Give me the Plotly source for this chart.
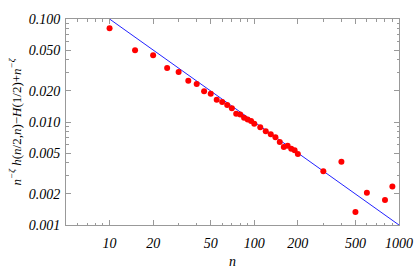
import plotly.graph_objects as go
import numpy as np

n_vals = [10, 15, 20, 25, 30, 35, 40, 45, 50, 55, 60, 65, 70, 75, 80, 85, 90, 95, 100,
          110, 120, 130, 140, 150, 160, 170, 180, 190, 200, 300, 400, 500, 600, 800, 900]
y_vals = [0.0812, 0.0497, 0.0444, 0.0334, 0.0305, 0.0252, 0.0234, 0.0199, 0.0188, 0.0164,
          0.0156, 0.0146, 0.0136, 0.0120, 0.0118, 0.0110, 0.0106, 0.0102, 0.0096,
          0.00889, 0.00813, 0.0076, 0.0071, 0.0064, 0.00572, 0.00589, 0.00551, 0.00531, 0.00489,
          0.00332, 0.00412, 0.00134, 0.00206, 0.00175, 0.00236]
line_n = [10, 1000]
line_y = [1 / v for v in line_n]

x_ticks = [10, 20, 50, 100, 200, 500, 1000]
x_ticklabels = ["10", "20", "50", "100", "200", "500", "1000"]
y_ticks = [0.001, 0.002, 0.005, 0.01, 0.02, 0.05, 0.1]
y_ticklabels = ["0.001", "0.002", "0.005", "0.010", "0.020", "0.050", "0.100"]

x_minor = [m * 10 ** e for e in range(0, 4) for m in range(1, 10) if 5 <= m * 10 ** e <= 1000]
y_minor = [m * 10.0 ** e for e in (-3, -2) for m in range(1, 10)] + [0.1]

serif = "Liberation Serif, Times New Roman, serif"
font = dict(family=serif, size=14, color="black")
fig = go.Figure()
fig.add_trace(go.Scatter(x=line_n, y=line_y, mode="lines",
                         line=dict(color="#2222ff", width=1), showlegend=False))
fig.add_trace(go.Scatter(x=n_vals, y=y_vals, mode="markers",
                         marker=dict(color="#ff0000", size=6), showlegend=False))

axis_common = dict(showgrid=False, zeroline=False, showline=True, linecolor="#999999",
                   linewidth=1, ticks="inside", tickcolor="#999999", ticklen=5,
                   automargin=False,
                   mirror="allticks", tickfont=dict(family=serif, size=14, color="black",
                                                    style="italic"))
fig.update_xaxes(type="log", range=[np.log10(5), 3], tickmode="array",
                 tickvals=x_ticks, ticktext=[f"<i>{t}</i>" for t in x_ticklabels],
                 ticklabelstandoff=5,
                 minor=dict(tickvals=x_minor, ticks="inside", ticklen=2.5, tickcolor="#999999"),
                 title=dict(text="<i>n</i>", font=dict(family=serif, size=14), standoff=10),
                 **axis_common)
fig.update_yaxes(type="log", range=[-3, -1], tickmode="array",
                 tickvals=y_ticks, ticktext=[f"<i>{t}</i>" for t in y_ticklabels],
                 ticklabelstandoff=2,
                 minor=dict(tickvals=y_minor, ticks="inside", ticklen=2.5, tickcolor="#999999"),
                 title=dict(text="<i>n<sup>−ζ</sup> h</i>(<i>n</i>/2,<i>n</i>)−<i>H</i>(1/2)+<i>n<sup>−ζ</sup></i>",
                            font=dict(family=serif, size=13), standoff=4),
                 **axis_common)
fig.update_layout(width=415, height=269, margin=dict(l=66, r=16, t=19, b=44),
                  plot_bgcolor="white", paper_bgcolor="white", font=font)
fig.write_html("out.html", config={"displayModeBar": False},
               post_script="document.body.style.margin='0';document.body.style.overflow='hidden';")
